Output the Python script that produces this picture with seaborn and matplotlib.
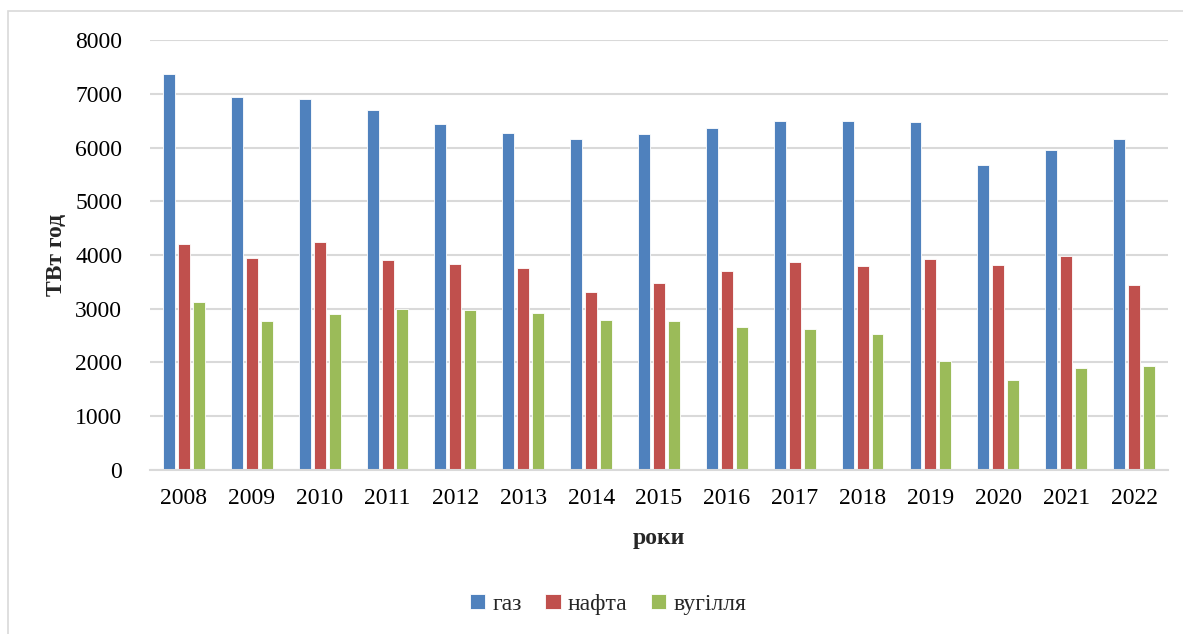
import pandas as pd
import seaborn as sns
import matplotlib.pyplot as plt
from matplotlib.patches import Rectangle

# Data
years = ['2008', '2009', '2010', '2011', '2012', '2013', '2014', '2015',
         '2016', '2017', '2018', '2019', '2020', '2021', '2022']
gas = [7365, 6935, 6905, 6695, 6435, 6265, 6160, 6260,
       6370, 6500, 6495, 6475, 5670, 5950, 6160]
oil = [4200, 3945, 4240, 3900, 3835, 3755, 3315, 3475,
       3695, 3870, 3795, 3930, 3810, 3975, 3435]
coal = [3120, 2770, 2910, 2990, 2975, 2920, 2785, 2780,
        2665, 2630, 2525, 2030, 1675, 1900, 1935]
series_names = ['газ', 'нафта', 'вугілля']
colors = ['#4F81BD', '#C0504D', '#9BBB59']

# Long format for seaborn
df = pd.DataFrame({'рік': years * 3,
                   'значення': gas + oil + coal,
                   'ресурс': [series_names[0]] * len(years)
                             + [series_names[1]] * len(years)
                             + [series_names[2]] * len(years)})

sns.set_theme(style='white')
plt.rcParams['font.family'] = ['Liberation Serif', 'DejaVu Serif']

fig = plt.figure(figsize=(11.83, 6.34), dpi=100)
ax = fig.add_axes([0.1268, 0.2587, 0.8605, 0.6782])

sns.barplot(data=df, x='рік', y='значення', hue='ресурс',
            palette=colors, width=0.66, gap=0.2, saturation=1,
            edgecolor='white', linewidth=0.6, ax=ax)

# Axes styling
ax.set_ylim(0, 8000)
ax.set_yticks(range(0, 8001, 1000))
ax.set_xlim(-0.5, len(years) - 0.5)
ax.yaxis.grid(True, color='#D9D9D9', linewidth=1.5)
ax.set_axisbelow(True)
for side in ['top', 'right', 'left']:
    ax.spines[side].set_visible(False)
ax.spines['bottom'].set_color('#D9D9D9')
ax.spines['bottom'].set_linewidth(1.5)
ax.tick_params(axis='both', length=0, labelsize=17, colors='black')
ax.tick_params(axis='y', pad=20)
ax.tick_params(axis='x', pad=13)

ax.set_xlabel('роки', fontsize=17, fontweight='bold', labelpad=14)
ax.set_ylabel('ТВт год', fontsize=17, fontweight='bold', labelpad=6)

# Legend below
ax.legend_.remove()
handles, labels = ax.get_legend_handles_labels()
fig.legend(handles, labels, loc='center', bbox_to_anchor=(0.514, 0.047),
           ncol=3, frameon=False, fontsize=17, handlelength=0.65,
           handleheight=0.65, handletextpad=0.3, columnspacing=1.0)

# Light outer border like the source chart frame
fig.patches.append(Rectangle((8 / 1183, -0.1), 1.2, 1 - 11 / 634 + 0.1,
                             transform=fig.transFigure, fill=False,
                             edgecolor='#D9D9D9', linewidth=1.2))

fig.savefig('out.png', dpi=100)
